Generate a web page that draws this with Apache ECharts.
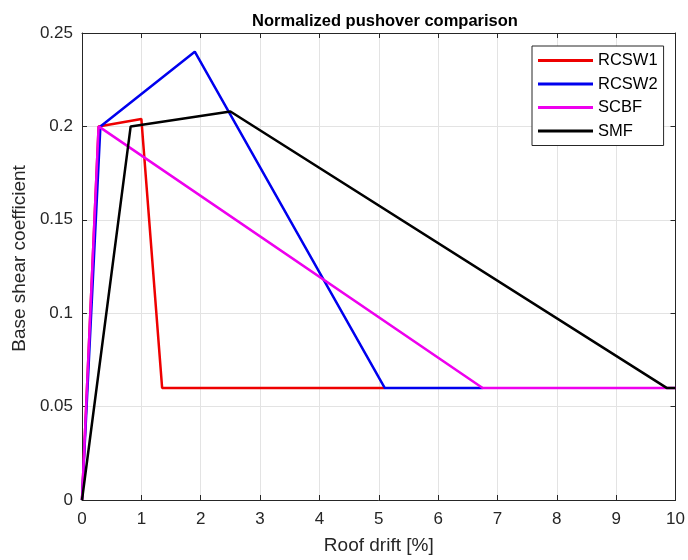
<!DOCTYPE html>
<html><head><meta charset="utf-8">
<script src="https://cdn.jsdelivr.net/npm/echarts@6/dist/echarts.min.js"></script>
<style>html,body{margin:0;padding:0;background:#fff}#c{width:688px;height:560px}</style>
</head><body><div id="c"></div>
<script>
const seriesNames = ['RCSW1', 'RCSW2', 'SCBF', 'SMF'];
const rcsw1 = [[0, 0], [0.28, 0.2], [1.0, 0.204], [1.35, 0.06], [5.1, 0.06]];
const rcsw2 = [[0, 0], [0.31, 0.2], [1.9, 0.24], [5.1, 0.06], [6.75, 0.06]];
const scbf = [[0, 0], [0.28, 0.2], [6.75, 0.06], [10, 0.06]];
const smf = [[0, 0], [0.82, 0.2], [2.5, 0.208], [9.85, 0.06], [10, 0.06]];
const colors = ['#ee0000', '#0000ee', '#ee00ee', '#000000'];
const xTicks = [0,1,2,3,4,5,6,7,8,9,10];
const yTicks = [0, 0.05, 0.1, 0.15, 0.2, 0.25];

const font = 'Liberation Sans, Arial, sans-serif';
const chart = echarts.init(document.getElementById('c'));
const dataSets = [rcsw1, rcsw2, scbf, smf];
const tickStyle = {show: true, inside: true, length: 5, lineStyle: {color: '#262626', width: 1}};
const lineStyleAx = {show: true, onZero: false, lineStyle: {color: '#262626', width: 1}};
chart.setOption({
  animation: false,
  title: {text: 'Normalized pushover comparison', left: 380, top: 8, textAlign: 'center',
    textStyle: {fontFamily: font, fontSize: 16.5, fontWeight: 'bold', color: '#000'}},
  grid: {left: 82, right: 11, top: 33, bottom: 57, show: false},
  legend: {
    data: seriesNames, orient: 'vertical', left: 532, top: 46,
    icon: 'rect', itemWidth: 55, itemHeight: 3, itemGap: 6.5,
    padding: [6, 6, 6, 6],
    borderColor: '#262626', borderWidth: 1, backgroundColor: '#fff', borderRadius: 0,
    textStyle: {fontFamily: font, fontSize: 16.5, lineHeight: 16, color: '#000'}
  },
  xAxis: [{
    type: 'value', min: 0, max: 10, interval: 1,
    name: 'Roof drift [%]', nameLocation: 'middle', nameGap: 36,
    nameTextStyle: {fontFamily: font, fontSize: 19, color: '#262626'},
    axisLine: lineStyleAx, axisTick: tickStyle,
    axisLabel: {fontFamily: font, fontSize: 17, color: '#262626', margin: 11,
      formatter: v => xTicks.includes(v) ? String(v) : ''},
    splitLine: {show: true, lineStyle: {color: '#e3e3e3', width: 1}}
  }, {
    type: 'value', min: 0, max: 10, interval: 1, position: 'top',
    axisLine: lineStyleAx, axisTick: tickStyle, axisLabel: {show: false}, splitLine: {show: false}
  }],
  yAxis: [{
    type: 'value', min: 0, max: 0.25, interval: 0.05,
    name: 'Base shear coefficient', nameLocation: 'middle', nameGap: 50,
    nameTextStyle: {fontFamily: font, fontSize: 19, color: '#262626', padding: [0, 0, 0, 16]},
    axisLine: lineStyleAx, axisTick: tickStyle,
    axisLabel: {fontFamily: font, fontSize: 17, color: '#262626', margin: 9,
      formatter: v => { const t = yTicks.find(y => Math.abs(y - v) < 1e-9); return t === undefined ? '' : String(+t.toFixed(2)); }},
    splitLine: {show: true, lineStyle: {color: '#e3e3e3', width: 1}}
  }, {
    type: 'value', min: 0, max: 0.25, interval: 0.05, position: 'right',
    axisLine: lineStyleAx, axisTick: tickStyle, axisLabel: {show: false}, splitLine: {show: false}
  }],
  series: dataSets.map((d, i) => ({
    name: seriesNames[i], type: 'line', data: d, xAxisIndex: 0, yAxisIndex: 0,
    showSymbol: false, symbol: 'none', lineStyle: {color: colors[i], width: 2.5},
    itemStyle: {color: colors[i]}, z: 2 + i
  }))
});
</script></body></html>
